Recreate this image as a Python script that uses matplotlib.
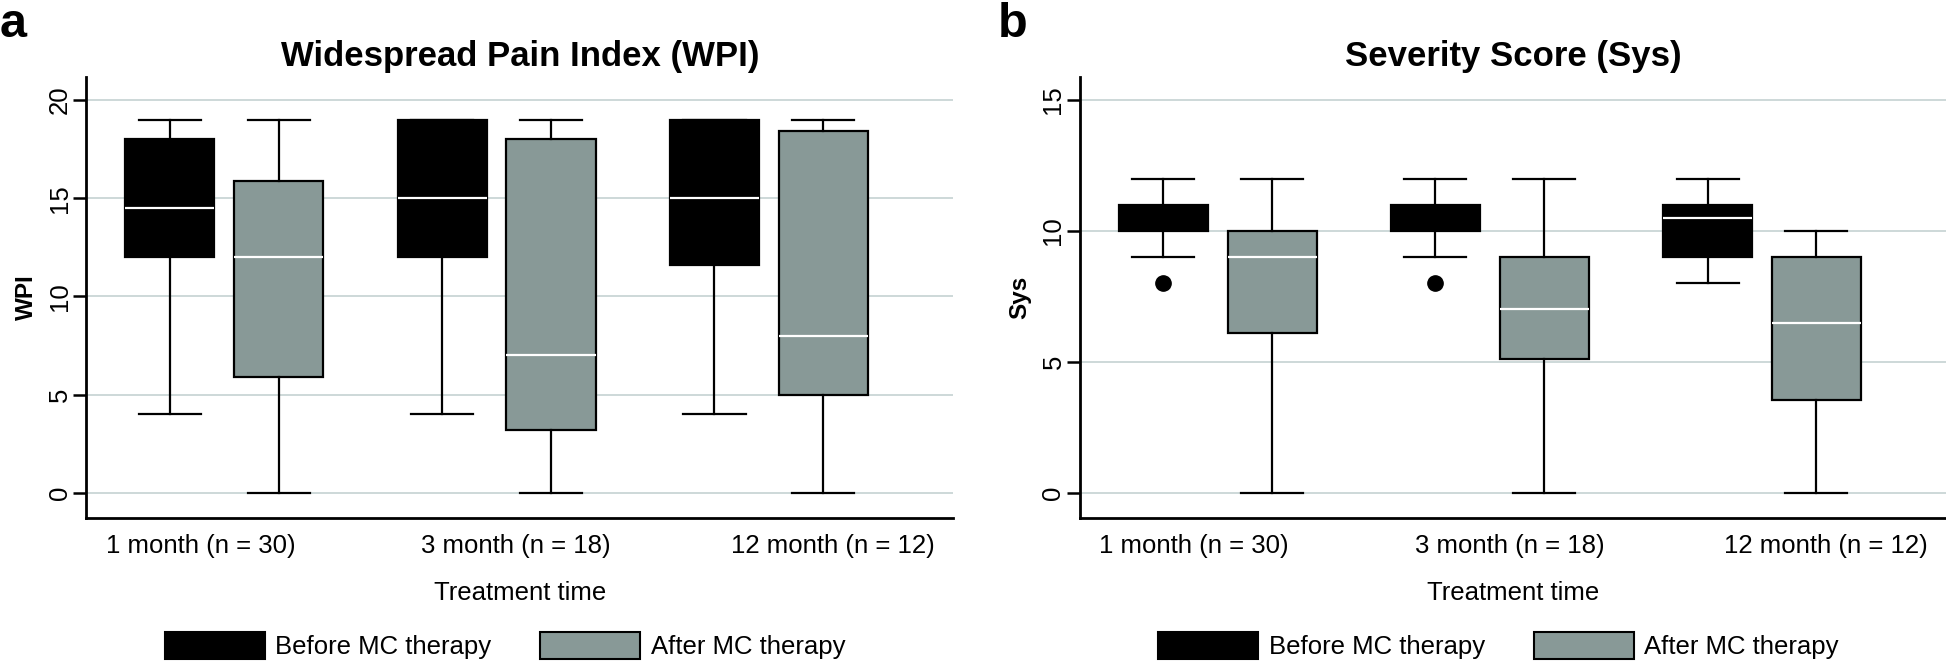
import matplotlib
matplotlib.use("Agg")
import matplotlib.pyplot as plt
from matplotlib.patches import Patch

plt.rcParams['font.family'] = ['Liberation Sans', 'DejaVu Sans']

# data
groups = ['1 month (n = 30)', '3 month (n = 18)', '12 month (n = 12)']

wpi_before_med = [14.5, 15, 15]
wpi_before_q1 = [12, 12, 11.6]
wpi_before_q3 = [18, 19, 19]
wpi_before_lo = [4, 4, 4]
wpi_before_hi = [19, 19, 19]

wpi_after_med = [12, 7, 8]
wpi_after_q1 = [5.9, 3.2, 5]
wpi_after_q3 = [15.9, 18, 18.4]
wpi_after_lo = [0, 0, 0]
wpi_after_hi = [19, 19, 19]

sys_before_med = [10, 10, 10.5]
sys_before_q1 = [10, 10, 9]
sys_before_q3 = [11, 11, 11]
sys_before_lo = [9, 9, 8]
sys_before_hi = [12, 12, 12]
sys_before_out = [[8], [8], []]

sys_after_med = [9, 7, 6.5]
sys_after_q1 = [6.1, 5.1, 3.55]
sys_after_q3 = [10, 9, 9]
sys_after_lo = [0, 0, 0]
sys_after_hi = [12, 12, 10]
sys_after_out = [[], [], []]

# layout / style
GRAY = '#889997'
GRID = '#c9d6d6'
FS = 18.5
pos_before = [0, 2.5, 5]
pos_after = [1, 3.5, 6]
label_pos = [0.28, 3.18, 6.09]


def make_stats(med, q1, q3, lo, hi, out=None):
    stats = []
    for i in range(len(med)):
        stats.append(dict(med=med[i], q1=q1[i], q3=q3[i], whislo=lo[i], whishi=hi[i],
                          fliers=out[i] if out else []))
    return stats


def draw_boxes(ax, stats, positions, color):
    res = ax.bxp(stats, positions=positions, widths=0.82, capwidths=0.57,
                 patch_artist=True, manage_ticks=False,
                 boxprops=dict(facecolor=color, edgecolor='black', linewidth=1.6),
                 whiskerprops=dict(color='black', linewidth=1.6),
                 capprops=dict(color='black', linewidth=1.6),
                 medianprops=dict(color='white', linewidth=1.6),
                 flierprops=dict(marker='o', markerfacecolor='black',
                                 markeredgecolor='black', markersize=11))
    # median sitting on the box edge is not visible in the original
    for line, s in zip(res['medians'], stats):
        if s['med'] in (s['q1'], s['q3']):
            line.set_visible(False)


def style_axes(ax, title, ylabel, ylim, yticks):
    ax.set_xlim(-0.765, 7.19)
    ax.set_ylim(*ylim)
    ax.set_yticks(yticks)
    ax.yaxis.grid(True, color=GRID, linewidth=1.3)
    ax.set_axisbelow(True)
    for side in ('top', 'right'):
        ax.spines[side].set_visible(False)
    for side in ('left', 'bottom'):
        ax.spines[side].set_linewidth(2)
    ax.tick_params(axis='y', length=9.5, width=1.8, pad=1, labelsize=FS,
                   labelrotation=90)
    for lbl in ax.get_yticklabels():
        lbl.set_va('center')
    ax.set_xticks(label_pos, groups)
    ax.tick_params(axis='x', length=0, pad=12, labelsize=FS)
    ax.set_xlabel('Treatment time', fontsize=FS)
    ax.xaxis.set_label_coords(0.5, -0.143)
    ax.set_ylabel(ylabel, fontsize=17.5, fontweight='bold')
    ax.yaxis.set_label_coords(-0.056, 0.5)
    ax.text(0.5, 1.045, title, transform=ax.transAxes, ha='center', va='center',
            fontsize=25, fontweight='bold')


fig = plt.figure(figsize=(19.46, 6.61), dpi=100)
ax1 = fig.add_axes([0.04445, 0.2168, 0.4453, 0.6672])
ax2 = fig.add_axes([0.5550, 0.2168, 0.4450, 0.6672])

draw_boxes(ax1, make_stats(wpi_before_med, wpi_before_q1, wpi_before_q3,
                           wpi_before_lo, wpi_before_hi), pos_before, 'black')
draw_boxes(ax1, make_stats(wpi_after_med, wpi_after_q1, wpi_after_q3,
                           wpi_after_lo, wpi_after_hi), pos_after, GRAY)
style_axes(ax1, 'Widespread Pain Index (WPI)', 'WPI', (-1.27, 21.19), [0, 5, 10, 15, 20])

draw_boxes(ax2, make_stats(sys_before_med, sys_before_q1, sys_before_q3,
                           sys_before_lo, sys_before_hi, sys_before_out), pos_before, 'black')
draw_boxes(ax2, make_stats(sys_after_med, sys_after_q1, sys_after_q3,
                           sys_after_lo, sys_after_hi, sys_after_out), pos_after, GRAY)
style_axes(ax2, 'Severity Score (Sys)', 'Sys', (-0.955, 15.89), [0, 5, 10, 15])

handles = [Patch(facecolor='black', edgecolor='black', linewidth=1.5),
           Patch(facecolor=GRAY, edgecolor='black', linewidth=1.5)]
labels = ['Before MC therapy', 'After MC therapy']
for cx in (0.2595, 0.770):
    fig.legend(handles, labels, loc='center', bbox_to_anchor=(cx, 0.0235), ncol=2,
               frameon=False, fontsize=FS, handlelength=3.9, handleheight=1.25,
               handletextpad=0.4, columnspacing=1.9, borderpad=0, borderaxespad=0)

fig.text(0.0, 0.944, 'a', fontsize=35, fontweight='bold', ha='left', va='baseline')
fig.text(0.5125, 0.944, 'b', fontsize=35, fontweight='bold', ha='left', va='baseline')

fig.savefig('out.png', dpi=100)
